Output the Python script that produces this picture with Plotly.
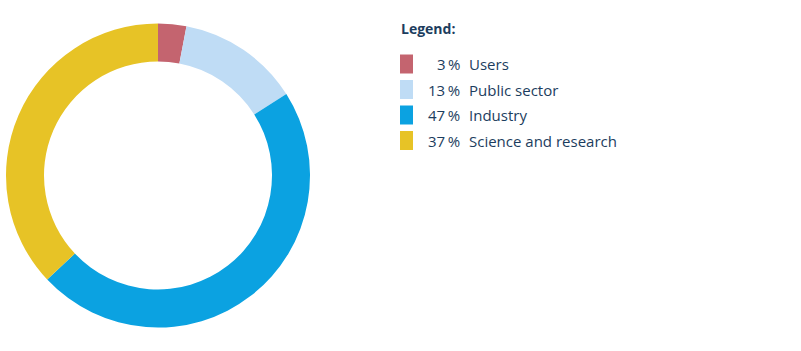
import plotly.graph_objects as go

labels = ["Users", "Public sector", "Industry", "Science and research"]
values = [3, 13, 47, 37]
colors = ["#c4646f", "#bfdcf5", "#0ba2e1", "#e7c326"]
pct_text = ["3\u2009%", "13\u2009%", "47\u2009%", "37\u2009%"]

W, H = 801, 351
text_color = "#1c3d5e"
font_family = "'Open Sans', Roboto, sans-serif"

fig = go.Figure(go.Pie(
    labels=labels, values=values, hole=0.75, sort=False, direction="clockwise",
    rotation=0, marker=dict(colors=colors, line=dict(width=0)),
    textinfo="none", hoverinfo="label+percent", showlegend=False,
    domain=dict(x=[6 / W, 310 / W], y=[23 / H, 328 / H]),
))

annotations = [dict(
    x=399 / W, y=1 - 28 / H, xref="paper", yref="paper", xanchor="left", yanchor="middle",
    text="<b>Legend:</b>", showarrow=False, font=dict(size=14, color=text_color, family=font_family),
)]
shapes = []
row0, step = 64, 25.5
for i, (lab, pt, col) in enumerate(zip(labels, pct_text, colors)):
    yc = row0 + i * step
    shapes.append(dict(type="rect", xref="paper", yref="paper",
                       x0=400 / W, x1=413 / W, y0=1 - (yc + 9.5) / H, y1=1 - (yc - 9.5) / H,
                       fillcolor=col, line=dict(width=0)))
    annotations.append(dict(x=462 / W, y=1 - yc / H, xref="paper", yref="paper",
                            xanchor="right", yanchor="middle", text=pt, showarrow=False,
                            font=dict(size=15, color=text_color, family=font_family)))
    annotations.append(dict(x=467 / W, y=1 - yc / H, xref="paper", yref="paper",
                            xanchor="left", yanchor="middle", text=lab, showarrow=False,
                            font=dict(size=15, color=text_color, family=font_family)))

fig.update_layout(
    width=W, height=H, margin=dict(l=0, r=0, t=0, b=0),
    paper_bgcolor="white", plot_bgcolor="white",
    annotations=annotations, shapes=shapes,
)
fig.write_html("out.html")
